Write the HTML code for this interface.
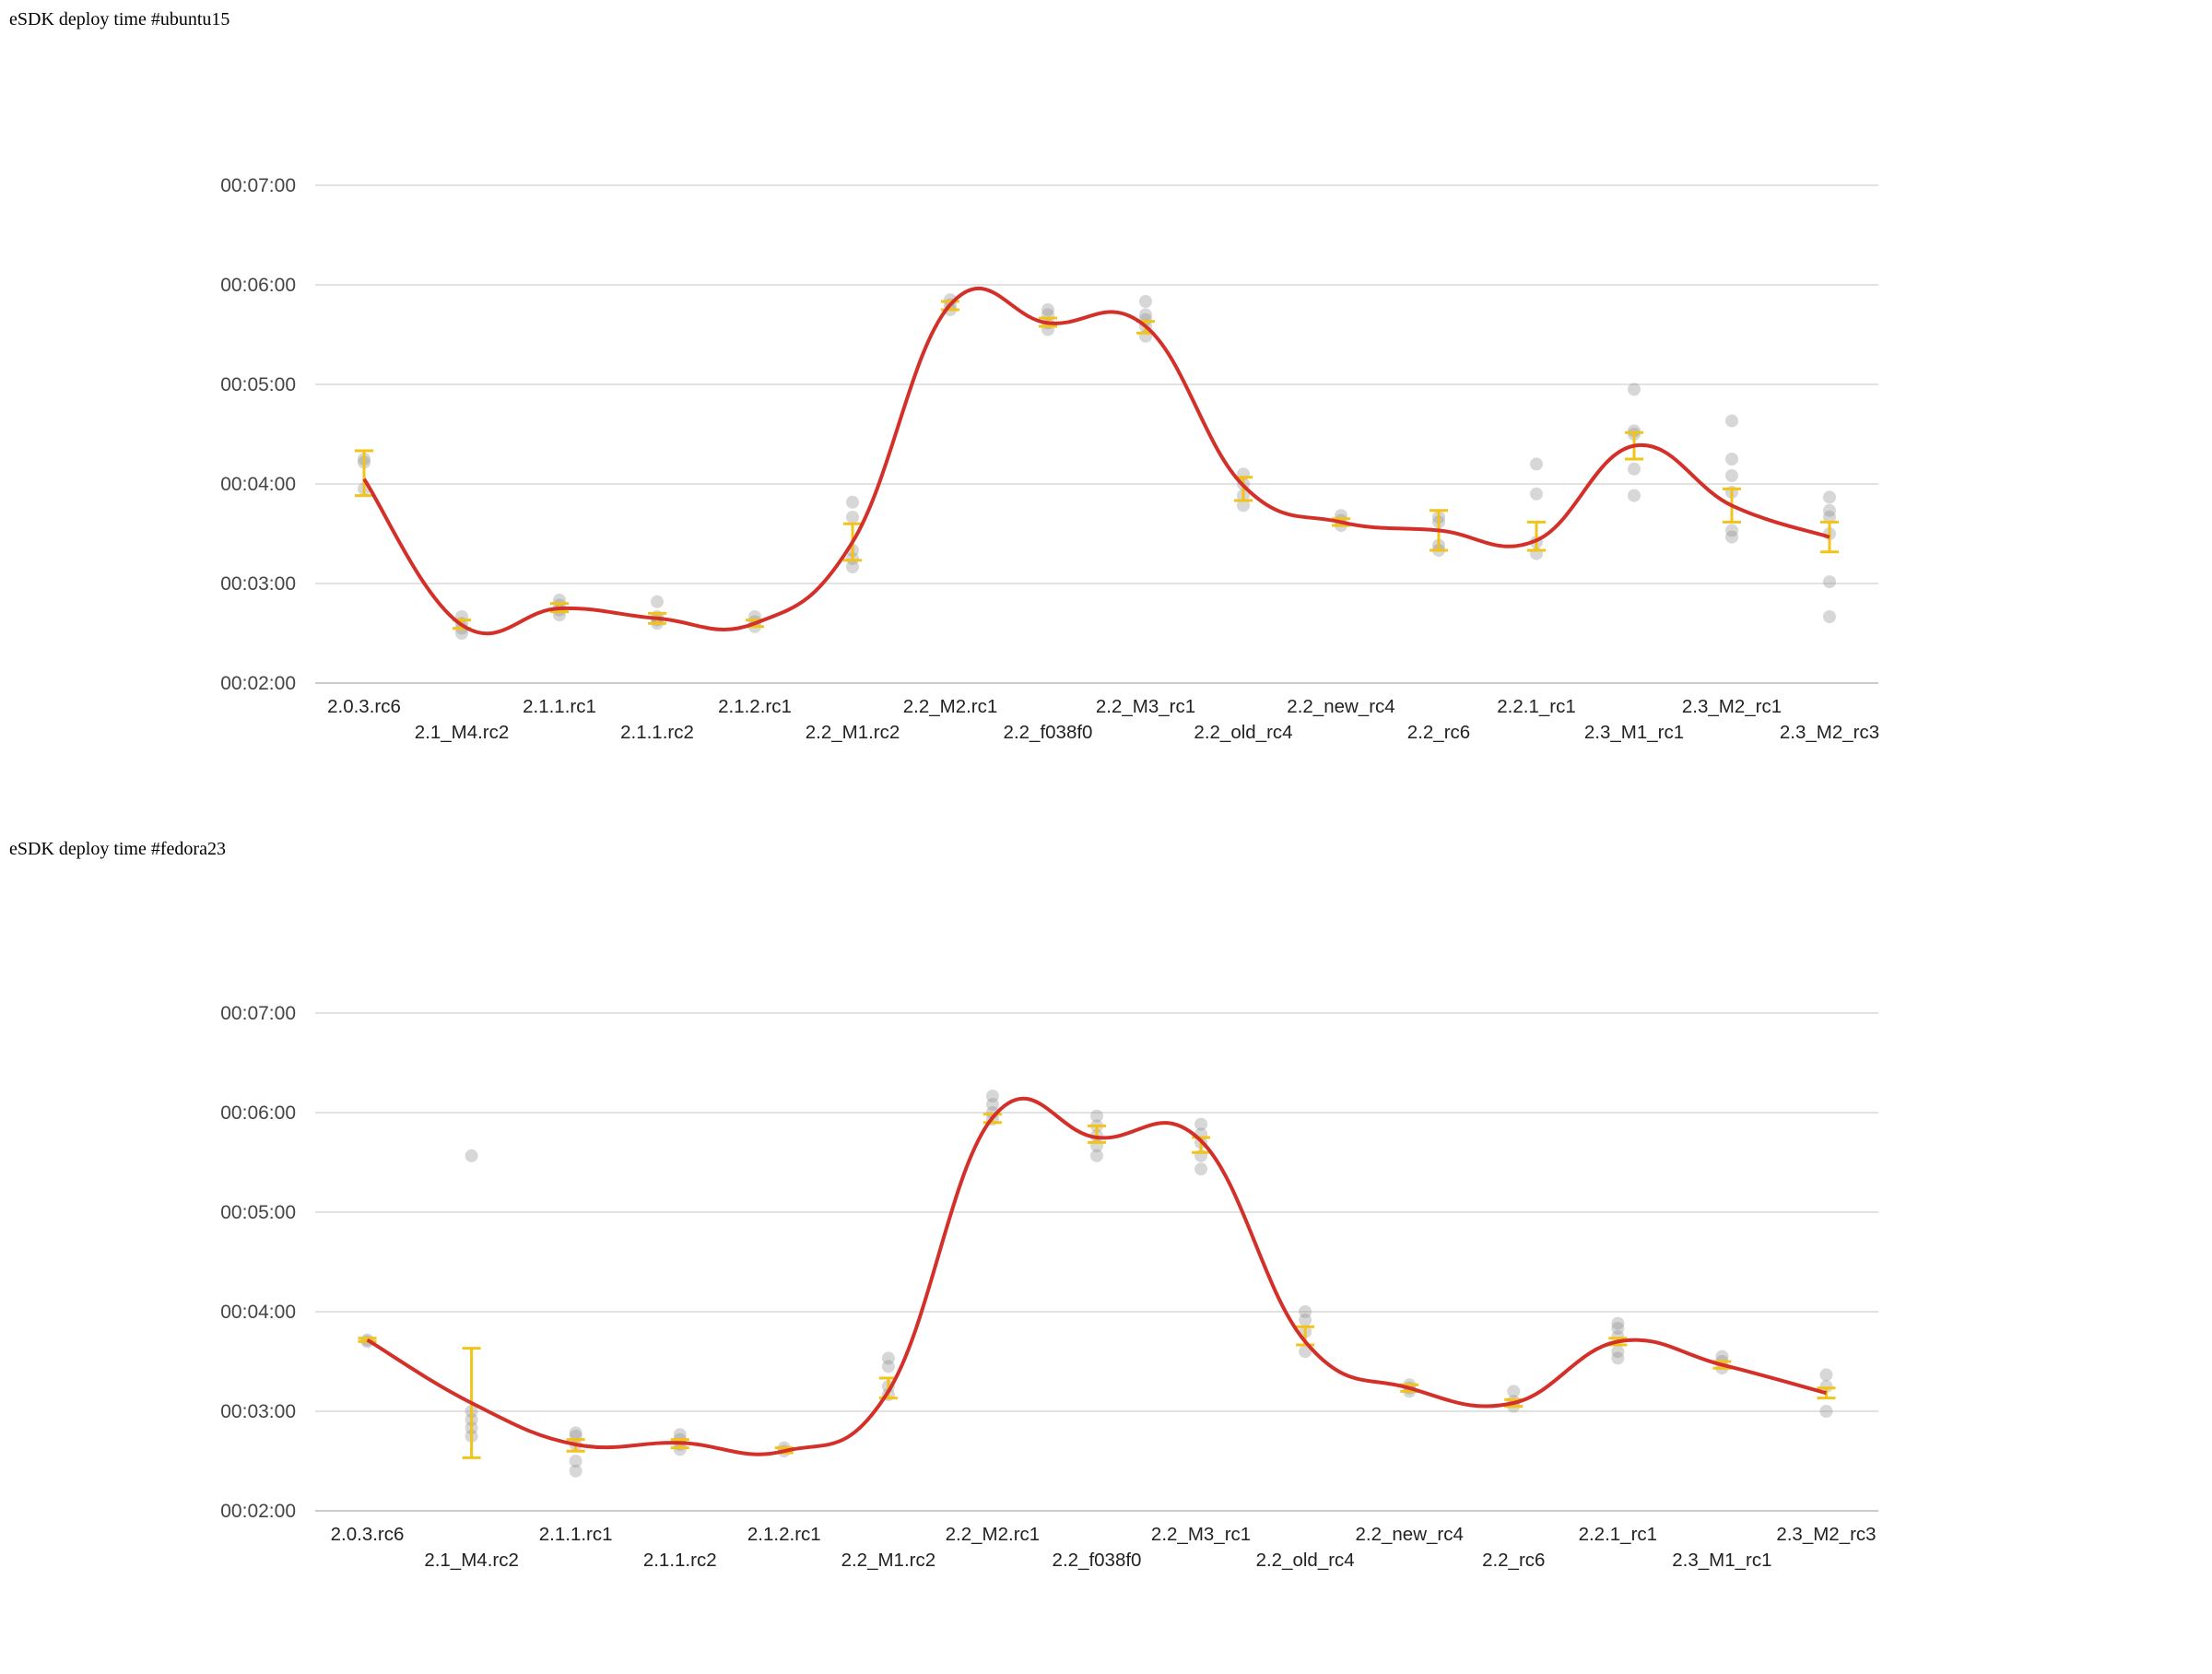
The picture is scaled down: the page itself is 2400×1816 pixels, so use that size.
<!DOCTYPE html>
<html><head><meta charset="utf-8">
<style>
html,body{margin:0;padding:0;background:#fff;}
body{width:2400px;height:1816px;position:relative;overflow:hidden;}
.title{position:absolute;left:10px;font-family:"Liberation Serif",serif;font-size:20px;color:#000;}
svg{position:absolute;left:0;}
</style></head>
<body>
<div class="title" style="top:10px">eSDK deploy time #ubuntu15</div>
<div class="title" style="top:910px">eSDK deploy time #fedora23</div>
<svg id="c1" width="2400" height="900" style="top:0"></svg>
<svg id="c2" width="2400" height="916" style="top:899px"></svg>
<script>
const yTicks = [120,180,240,300,360,420];
const catsA = ["2.0.3.rc6","2.1_M4.rc2","2.1.1.rc1","2.1.1.rc2","2.1.2.rc1","2.2_M1.rc2","2.2_M2.rc1","2.2_f038f0","2.2_M3_rc1","2.2_old_rc4","2.2_new_rc4","2.2_rc6","2.2.1_rc1","2.3_M1_rc1","2.3_M2_rc1","2.3_M2_rc3"];
const meanA = [243,155,165,159,156,205,348,337,335,239,217,212,206,263,227,208];
const errHiA = [260,158,168,162,158,216,350,340,338,244,219,224,217,271,237,217];
const errLoA = [233,153,163,156,154,194,345,335,331,230,215,200,200,255,217,199];
const dotsA = [[255,253,237],[160,156,153,150],[170,167,164,161],[169,160,158,156],[160,157,154],[229,220,200,195,190],[351,348,345],[345,342,337,333],[350,342,339,335,329],[246,240,233,227],[221,218,215],[220,217,203,200],[252,234,205,198],[297,272,270,249,233],[278,255,245,235,212,208],[232,224,220,210,181,160]];

const catsB = ["2.0.3.rc6","2.1_M4.rc2","2.1.1.rc1","2.1.1.rc2","2.1.2.rc1","2.2_M1.rc2","2.2_M2.rc1","2.2_f038f0","2.2_M3_rc1","2.2_old_rc4","2.2_new_rc4","2.2_rc6","2.2.1_rc1","2.3_M1_rc1","2.3_M2_rc3"];
const meanB = [223,185,160,161,156,192,357,345,343,222,194,185,222,208,191];
const errHiB = [224,218,163,163,158,200,359,352,345,231,196,187,224,210,194];
const errLoB = [222,152,156,158,155,188,354,342,336,220,192,183,220,206,188];
const dotsB = [[223,222],[334,180,175,170,165],[167,165,160,150,144],[166,163,160,157],[158,156],[212,207,195,190],[370,365,360,356],[358,352,346,340,334],[353,347,342,334,326],[240,235,228,216],[196,194,192],[192,186,183],[233,230,225,216,212],[213,210,206],[202,195,180]];

const NS="http://www.w3.org/2000/svg";
function el(p,t,a){const e=document.createElementNS(NS,t);for(const k in a)e.setAttribute(k,a[k]);p.appendChild(e);return e;}
function fmt(s){const m=Math.floor(s/60),ss=s%60;return "00:0"+m+":"+(ss<10?"0":"")+ss;}

function draw(svg, cats, mean, hi, lo, dots, top){
  const L=342,R=2038,yTop=top,yBot=top+540,minV=120,maxV=420;
  const bw=(R-L)/cats.length;
  const xs=i=>L+(i+0.5)*bw;
  const ys=v=>yBot-(v-minV)/(maxV-minV)*(yBot-yTop);
  yTicks.forEach(t=>{
    const g=el(svg,"line",{x1:L,x2:R,y1:ys(t),y2:ys(t),stroke:t===120?"#ccc":"#d9d9d9","stroke-width":t===120?2:1.5});
    
    
    const tx=el(svg,"text",{x:321,y:ys(t)+7,"text-anchor":"end","font-family":"Liberation Sans, sans-serif","font-size":21,fill:"#444"});
    tx.textContent=fmt(t);
    
    
  });
  cats.forEach((c,i)=>{
    const tx=el(svg,"text",{x:xs(i),y:yBot+(i%2?60:32),"text-anchor":"middle","font-family":"Liberation Sans, sans-serif","font-size":20.5,fill:"#222"});
    tx.textContent=c;
    
    
  });
  dots.forEach((d,i)=>d.forEach(v=>{
    const c=el(svg,"circle",{cx:xs(i),cy:ys(v),r:7,fill:"rgba(140,140,140,0.35)"});
    
    
  }));
  mean.forEach((m,i)=>{
    const x=xs(i);
    const g=el(svg,"g",{stroke:"#f2c318","stroke-width":3});
    
    
    el(g,"line",{x1:x,x2:x,y1:ys(hi[i]),y2:ys(lo[i])});
    el(g,"line",{x1:x-10,x2:x+10,y1:ys(hi[i]),y2:ys(hi[i])});
    el(g,"line",{x1:x-10,x2:x+10,y1:ys(lo[i]),y2:ys(lo[i])});
  });
  const P=mean.map((m,i)=>[xs(i),ys(m)]);
  let d="M"+P[0][0]+","+P[0][1];
  for(let i=0;i<P.length-1;i++){
    const p0=P[Math.max(0,i-1)],p1=P[i],p2=P[i+1],p3=P[Math.min(P.length-1,i+2)];
    const k=0.2;
    const c1=[p1[0]+(p2[0]-p0[0])*k,p1[1]+(p2[1]-p0[1])*k];
    const c2=[p2[0]-(p3[0]-p1[0])*k,p2[1]-(p3[1]-p1[1])*k];
    d+=" C"+c1+" "+c2+" "+p2;
  }
  const path=el(svg,"path",{d:d,fill:"none",stroke:"#d4302a","stroke-width":4});
  
  
}
draw(document.getElementById("c1"),catsA,meanA,errHiA,errLoA,dotsA,201);
draw(document.getElementById("c2"),catsB,meanB,errHiB,errLoB,dotsB,200);
</script>
</body></html>
